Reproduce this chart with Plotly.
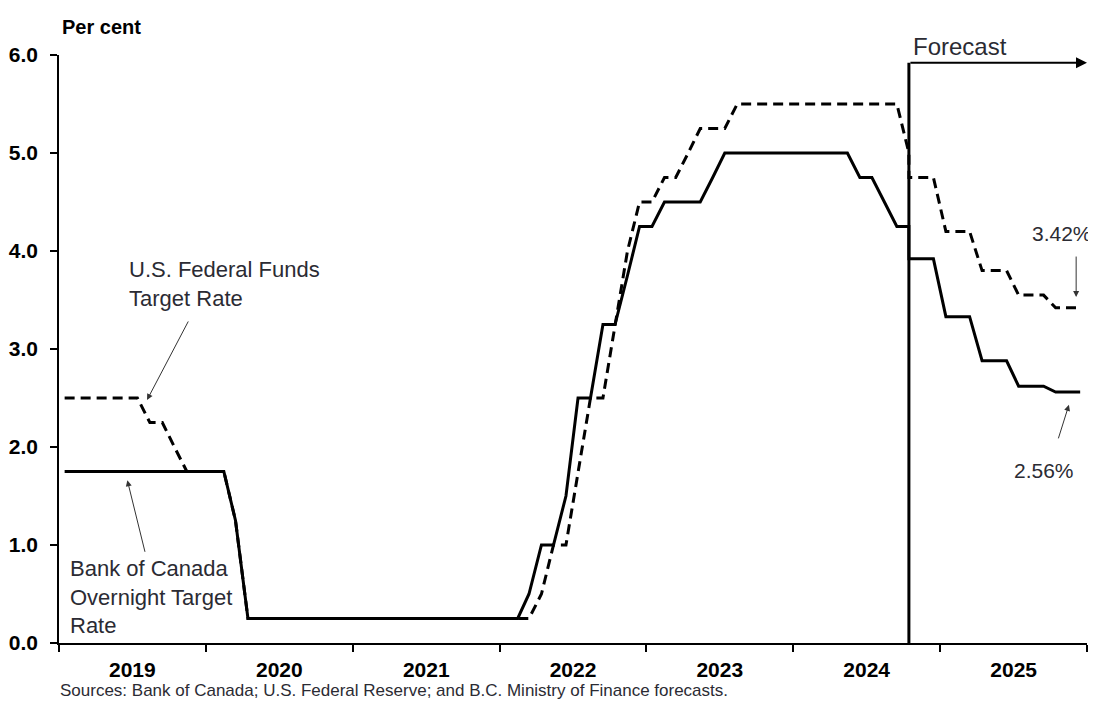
import pandas as pd
import plotly.graph_objects as go

# ---------------- data ----------------
# monthly observations (plotted mid-month), Jan 2019 - Oct 2024
boc_actual = [
    1.75, 1.75, 1.75, 1.75, 1.75, 1.75, 1.75, 1.75, 1.75, 1.75, 1.75, 1.75,   # 2019
    1.75, 1.75, 1.25, 0.25, 0.25, 0.25, 0.25, 0.25, 0.25, 0.25, 0.25, 0.25,   # 2020
    0.25, 0.25, 0.25, 0.25, 0.25, 0.25, 0.25, 0.25, 0.25, 0.25, 0.25, 0.25,   # 2021
    0.25, 0.25, 0.50, 1.00, 1.00, 1.50, 2.50, 2.50, 3.25, 3.25, 3.75, 4.25,   # 2022
    4.25, 4.50, 4.50, 4.50, 4.50, 4.75, 5.00, 5.00, 5.00, 5.00, 5.00, 5.00,   # 2023
    5.00, 5.00, 5.00, 5.00, 5.00, 4.75, 4.75, 4.50, 4.25, 4.25,               # 2024 (Jan-Oct)
]
fed_actual = [
    2.50, 2.50, 2.50, 2.50, 2.50, 2.50, 2.50, 2.25, 2.25, 2.00, 1.75, 1.75,   # 2019
    1.75, 1.75, 1.25, 0.25, 0.25, 0.25, 0.25, 0.25, 0.25, 0.25, 0.25, 0.25,   # 2020
    0.25, 0.25, 0.25, 0.25, 0.25, 0.25, 0.25, 0.25, 0.25, 0.25, 0.25, 0.25,   # 2021
    0.25, 0.25, 0.25, 0.50, 1.00, 1.00, 1.75, 2.50, 2.50, 3.25, 4.00, 4.50,   # 2022
    4.50, 4.75, 4.75, 5.00, 5.25, 5.25, 5.25, 5.50, 5.50, 5.50, 5.50, 5.50,   # 2023
    5.50, 5.50, 5.50, 5.50, 5.50, 5.50, 5.50, 5.50, 5.50, 5.00,               # 2024 (Jan-Oct)
]
# forecast, Oct 2024 - Dec 2025 (quarterly averages held for each month)
boc_forecast = [3.92, 3.92, 3.92,
                3.33, 3.33, 3.33, 2.88, 2.88, 2.88, 2.62, 2.62, 2.62, 2.56, 2.56, 2.56]
fed_forecast = [4.75, 4.75, 4.75,
                4.20, 4.20, 4.20, 3.80, 3.80, 3.80, 3.55, 3.55, 3.55, 3.42, 3.42, 3.42]

months = pd.date_range("2019-01-01", "2025-12-01", freq="MS") + pd.Timedelta(days=14)
actual_dates = list(months[:len(boc_actual)])
forecast_dates = list(months[len(boc_actual) - 1:])

forecast_start = "2024-10-15"
forecast_top = 5.92
x_range = ["2019-01-01", "2026-01-01"]
y_ticks = [0, 1, 2, 3, 4, 5, 6]
y_tick_labels = ["0.0", "1.0", "2.0", "3.0", "4.0", "5.0", "6.0"]

FONT = "Arial, 'Liberation Sans', sans-serif"
TXT = "#2b2b33"

fig = go.Figure()
fig.add_trace(go.Scatter(
    x=actual_dates + forecast_dates, y=fed_actual + fed_forecast,
    mode="lines", line=dict(color="black", width=3, dash="10px,6px"),
    name="U.S. Federal Funds Target Rate", hoverinfo="skip"))
fig.add_trace(go.Scatter(
    x=actual_dates + forecast_dates, y=boc_actual + boc_forecast,
    mode="lines", line=dict(color="black", width=3),
    name="Bank of Canada Overnight Target Rate", hoverinfo="skip"))

# forecast divider
fig.add_shape(type="line", xref="x", yref="y", x0=forecast_start, x1=forecast_start,
              y0=0, y1=forecast_top, line=dict(color="black", width=3))
fig.add_annotation(xref="x", yref="y", axref="x", ayref="y",
                   x=x_range[1], y=forecast_top, ax=forecast_start, ay=forecast_top,
                   text="", showarrow=True, arrowhead=2, arrowsize=1.1, arrowwidth=2,
                   arrowcolor="black")

# plot area in page pixels (the page adds an 8px body margin)
W_L, W_R, P_T, P_B = 59, 1087, 55, 643
FIG_W, FIG_H, OFF = 1088, 698, 8


def px(x):
    return (x - W_L) / (W_R - W_L)


def py(y):
    return (P_B - y) / (P_B - P_T)


def text(x, y, s, size=21, bold=False, xanchor="left", yanchor="middle", align="left"):
    fig.add_annotation(xref="paper", yref="paper", x=px(x), y=py(y), text=s,
                       showarrow=False, xanchor=xanchor, yanchor=yanchor, align=align,
                       font=dict(family=FONT, size=size, color="black" if bold else TXT,
                                 weight="bold" if bold else "normal"))


text(60, 27, "Per cent", size=20, bold=True)
text(911, 47, "Forecast", size=24)
text(127, 284, "U.S. Federal Funds<br>Target Rate", size=22)
text(68, 597, "Bank of Canada<br>Overnight Target<br>Rate", size=22)
text(1062, 233, "3.42%", size=21, xanchor="center")
text(1044, 470, "2.56%", size=21, xanchor="center")
text(58, 690, "Sources: Bank of Canada; U.S. Federal Reserve; and B.C. Ministry of Finance forecasts.",
     size=17)


def arrow(x, y, ax, ay):
    fig.add_annotation(xref="x", yref="y", x=x, y=y, ax=ax, ay=ay, text="",
                       showarrow=True, arrowhead=2, arrowsize=1.2, arrowwidth=1,
                       arrowcolor="#333333")


arrow("2019-08-08", 2.48, 42, -80)
arrow("2019-06-20", 1.66, 18, 73)
arrow("2025-12-05", 3.53, 0, -42)
arrow("2025-11-17", 2.43, -11, 35)

fig.update_layout(
    width=FIG_W, height=FIG_H,
    margin=dict(l=W_L - OFF, r=FIG_W - (W_R - OFF), t=P_T - OFF, b=FIG_H - (P_B - OFF)),
    paper_bgcolor="white", plot_bgcolor="white",
    showlegend=False,
    font=dict(family=FONT, color="black"),
    xaxis=dict(type="date", range=x_range, dtick="M12", tick0="2019-01-01",
               ticklabelmode="period", tickformat="%Y", automargin=False,
               showgrid=False, zeroline=False, showline=True, linecolor="black", linewidth=1.5,
               ticks="outside", ticklen=7, tickwidth=1.5, tickcolor="black",
               tickfont=dict(family=FONT, size=21, color="black", weight="bold")),
    yaxis=dict(range=[0, 6], tickvals=y_ticks, ticktext=y_tick_labels, automargin=False,
               showgrid=False, zeroline=False, showline=True, linecolor="black", linewidth=1.5,
               ticks="outside", ticklen=7, tickwidth=1.5, tickcolor="black",
               ticklabelstandoff=8,
               tickfont=dict(family=FONT, size=21, color="black", weight="bold")),
)

fig.write_html("out.html")
